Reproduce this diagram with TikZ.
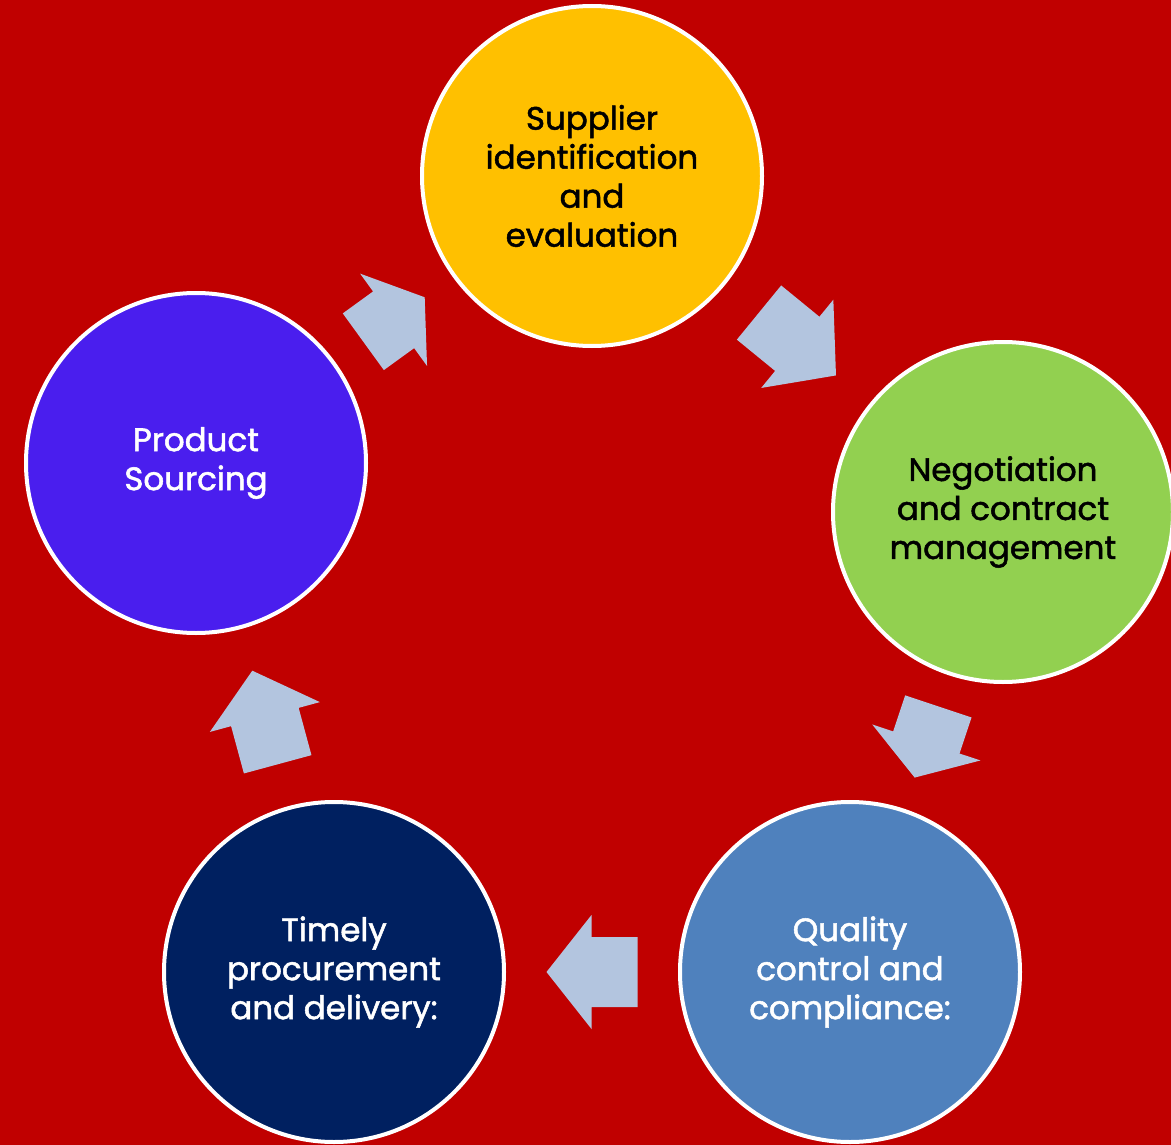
\documentclass[tikz,border=0pt]{standalone}
\usepackage{fontspec}
\setmainfont{Poppins}
\newfontfamily\stagefont{Poppins}[FakeBold=1.6]
\usetikzlibrary{calc}
\definecolor{bgred}{HTML}{C00000}
\definecolor{cyellow}{HTML}{FFC000}
\definecolor{cgreen}{HTML}{92D050}
\definecolor{cblue}{HTML}{4F81BD}
\definecolor{cnavy}{HTML}{002060}
\definecolor{cpurple}{HTML}{4A1EEE}
\definecolor{arrowc}{HTML}{B3C5DF}
\tikzset{
  stage/.style={circle, draw=white, line width=4pt, minimum size=340pt, inner sep=0pt, align=center, font=\stagefont\fontsize{32.5}{39}\selectfont},
  darktext/.style={text=black},
  lighttext/.style={text=white},
  flowarrow/.style={fill=arrowc, draw=none}
}
\newcommand{\blockarrow}[4]{% from, to, body length, head length
  \pgfmathanglebetweenpoints{\pgfpointanchor{#1}{center}}{\pgfpointanchor{#2}{center}}%
  \let\arrang\pgfmathresult
  \pgfmathsetmacro{\arrhalf}{(#3+#4)/2}%
  \pgfmathsetmacro{\arrnotch}{-\arrhalf+#3}%
  \begin{scope}[shift={($(#1)!0.5!(#2)$)}, rotate=\arrang]
    \fill[flowarrow] (-\arrhalf pt,-35pt) -- (\arrnotch pt,-35pt) -- (\arrnotch pt,-57pt) -- (\arrhalf pt,0pt) -- (\arrnotch pt,57pt) -- (\arrnotch pt,35pt) -- (-\arrhalf pt,35pt) -- cycle;
  \end{scope}
}
\begin{document}
\begin{tikzpicture}[x=1pt, y=-1pt]
  \useasboundingbox (0,0) rectangle (1171,1145);
  \fill[bgred] (0,0) rectangle (1171,1145);
  \node[stage, fill=cyellow, darktext] (sup) at (592,176) {Supplier\\identification\\and\\evaluation};
  \node[stage, fill=cgreen, darktext] (neg) at (1003,512) {Negotiation\\and contract\\management};
  \node[stage, fill=cblue, lighttext] (qual) at (850,972) {Quality\\control and\\compliance:};
  \node[stage, fill=cnavy, lighttext] (time) at (334,972) {Timely\\procurement\\and delivery:};
  \node[stage, fill=cpurple, lighttext] (prod) at (196,463) {Product\\Sourcing};
  \blockarrow{prod}{sup}{37.4}{38.4}
  \blockarrow{sup}{neg}{49.4}{50}
  \blockarrow{neg}{qual}{38}{37}
  \blockarrow{qual}{time}{46}{45}
  \blockarrow{time}{prod}{49}{48}
\end{tikzpicture}
\end{document}
